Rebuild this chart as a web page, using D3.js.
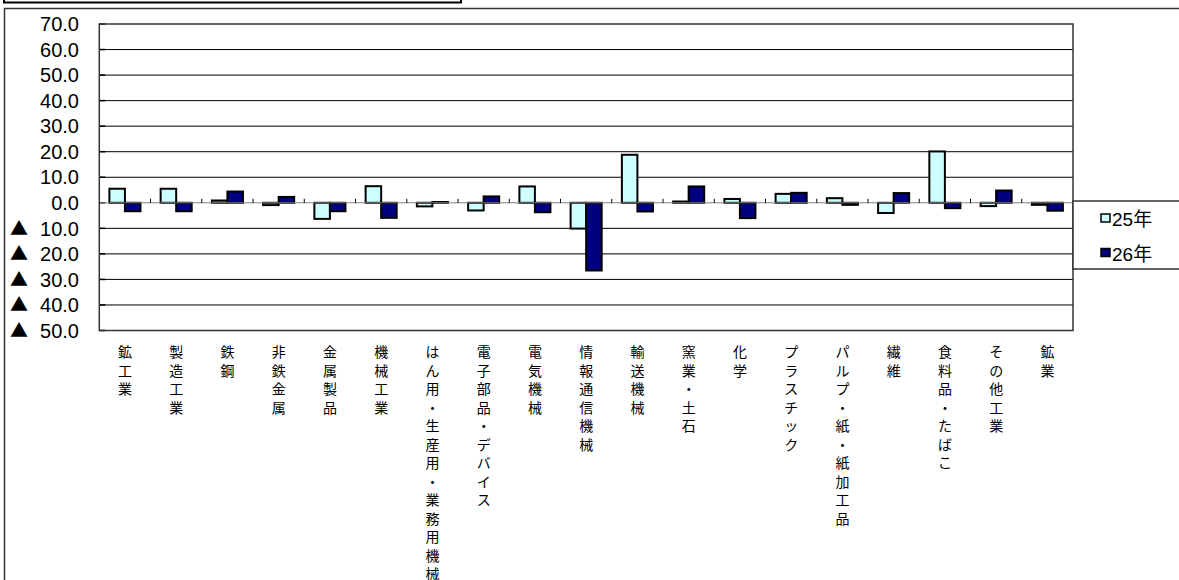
<!DOCTYPE html>
<html>
<head>
<meta charset="utf-8">
<script src="https://cdn.jsdelivr.net/npm/d3@7"></script>
<style>
  body { margin: 0; background: #fff; }
  svg { display: block; }
</style>
</head>
<body>
<div id="chart"></div>
<script>
// categories along the x axis
const categories = [
  "鉱工業", "製造工業", "鉄鋼", "非鉄金属", "金属製品", "機械工業",
  "はん用・生産用・業務用機械", "電子部品・デバイス", "電気機械", "情報通信機械",
  "輸送機械", "窯業・土石", "化学", "プラスチック", "パルプ・紙・紙加工品",
  "繊維", "食料品・たばこ", "その他工業", "鉱業"
];

const seriesNames = ["25年", "26年"];

// values
const values25 = [5.5, 5.5, 0.9, -0.9, -6.3, 6.5, -1.4, -3.0, 6.4, -10.1,
  18.8, 0.5, 1.5, 3.5, 1.8, -4.0, 20.1, -1.3, -0.8];
const values26 = [-3.3, -3.3, 4.4, 2.3, -3.3, -5.9, 0.3, 2.5, -3.7, -26.5,
  -3.4, 6.4, -6.0, 3.9, -0.8, 3.8, -2.1, 4.8, -3.1];

const yTicks = [70, 60, 50, 40, 30, 20, 10, 0, -10, -20, -30, -40, -50];

const settings = {
  width: 1179,
  height: 580,
  plotLeft: 99.3,
  plotRight: 1073,
  plotTop: 24,
  plotBottom: 330.5,
  colors: ["#CCFFFF", "#000080"],
  tickFont: "20px",
  labelFont: "14px",
  labelStep: 18.5,
};

function drawChart() {
  const svg = d3
    .select("#chart")
    .append("svg")
    .attr("width", settings.width)
    .attr("height", settings.height);

  // title box stub and outer chart frame
  svg.append("rect")
    .attr("x", 4).attr("y", -6)
    .attr("width", 457).attr("height", 8.5)
    .attr("fill", "none").attr("stroke", "#000").attr("stroke-width", 2);

  svg.append("path")
    .attr("d", `M4.5,${settings.height} V8.5 H${settings.width}`)
    .attr("fill", "none").attr("stroke", "#333").attr("stroke-width", 1.5);

  const x = d3.scaleBand()
    .domain(categories)
    .range([settings.plotLeft, settings.plotRight]);

  const xSub = d3.scaleBand()
    .domain(seriesNames)
    .range([0, x.bandwidth()])
    .paddingOuter(0.65);

  const y = d3.scaleLinear()
    .domain([-50, 70])
    .range([settings.plotBottom, settings.plotTop]);

  // gridlines
  svg.append("g")
    .selectAll("line")
    .data(yTicks.filter(d => d !== 0 && d !== 70 && d !== -50))
    .join("line")
    .attr("x1", settings.plotLeft).attr("x2", settings.plotRight)
    .attr("y1", d => y(d)).attr("y2", d => y(d))
    .attr("stroke", "#000").attr("stroke-width", 1);

  // y tick labels (number part)
  svg.append("g")
    .selectAll("text")
    .data(yTicks)
    .join("text")
    .attr("x", 79)
    .attr("y", d => y(d))
    .attr("dy", "0.36em")
    .attr("text-anchor", "end")
    .attr("font-family", "'Liberation Sans', sans-serif")
    .attr("font-size", settings.tickFont)
    .attr("fill", "#000")
    .text(d => Math.abs(d).toFixed(1));

  // ▲ marks the negative values
  svg.append("g")
    .selectAll("text")
    .data(yTicks.filter(d => d < 0))
    .join("text")
    .attr("x", 10)
    .attr("y", d => y(d))
    .attr("dy", "0.36em")
    .attr("font-family", "'Noto Sans CJK JP', sans-serif")
    .attr("font-size", "18px")
    .attr("fill", "#000")
    .text("▲");

  // small tick marks on left axis
  svg.append("g")
    .selectAll("line")
    .data(yTicks)
    .join("line")
    .attr("x1", settings.plotLeft).attr("x2", settings.plotLeft + 6)
    .attr("y1", d => y(d)).attr("y2", d => y(d))
    .attr("stroke", "#000").attr("stroke-width", 1.5);

  // bars
  const groups = svg.append("g")
    .selectAll("g")
    .data(categories)
    .join("g")
    .attr("transform", d => `translate(${x(d)},0)`);

  groups.selectAll("rect")
    .data((d, i) => [
      { name: seriesNames[0], value: values25[i], color: settings.colors[0] },
      { name: seriesNames[1], value: values26[i], color: settings.colors[1] },
    ])
    .join("rect")
    .attr("x", d => xSub(d.name))
    .attr("width", xSub.bandwidth())
    .attr("y", d => y(Math.max(0, d.value)))
    .attr("height", d => Math.abs(y(d.value) - y(0)))
    .attr("fill", d => d.color)
    .attr("stroke", "#000")
    .attr("stroke-width", 2);

  // zero axis with category ticks
  svg.append("line")
    .attr("x1", settings.plotLeft).attr("x2", settings.plotRight)
    .attr("y1", y(0)).attr("y2", y(0))
    .attr("stroke", "#808080").attr("stroke-width", 1);

  svg.append("g")
    .selectAll("line")
    .data(categories.slice(1))
    .join("line")
    .attr("x1", d => x(d)).attr("x2", d => x(d))
    .attr("y1", y(0) - 4).attr("y2", y(0))
    .attr("stroke", "#000").attr("stroke-width", 1);

  // plot frame
  svg.append("rect")
    .attr("x", settings.plotLeft).attr("y", settings.plotTop)
    .attr("width", settings.plotRight - settings.plotLeft)
    .attr("height", settings.plotBottom - settings.plotTop)
    .attr("fill", "none").attr("stroke", "#333").attr("stroke-width", 1.5);

  // vertical category labels, one character per line
  const labels = svg.append("g")
    .attr("font-family", "'Noto Sans CJK JP', sans-serif")
    .attr("font-size", settings.labelFont)
    .attr("fill", "#000")
    .attr("text-anchor", "middle");

  labels.selectAll("text")
    .data(categories)
    .join("text")
    .attr("transform", d => `translate(${x(d) + x.bandwidth() / 2},357)`)
    .selectAll("tspan")
    .data(d => Array.from(d))
    .join("tspan")
    .attr("x", 0)
    .attr("y", (c, i) => i * settings.labelStep)
    .text(c => c);

  // legend
  const legend = svg.append("g");
  legend.append("rect")
    .attr("x", settings.plotRight).attr("y", 201)
    .attr("width", 130).attr("height", 68)
    .attr("fill", "#fff").attr("stroke", "#333").attr("stroke-width", 1.5);

  const items = legend.selectAll("g")
    .data(seriesNames)
    .join("g")
    .attr("transform", (d, i) => `translate(1101,${214 + i * 34.5})`);

  items.append("rect")
    .attr("width", 9).attr("height", 8)
    .attr("fill", (d, i) => settings.colors[i])
    .attr("stroke", "#000").attr("stroke-width", 1.5);

  items.append("text")
    .attr("x", 11).attr("y", 12)
    .attr("font-family", "'Liberation Sans', 'Noto Sans CJK JP', sans-serif")
    .attr("font-size", "19px")
    .attr("fill", "#000")
    .text(d => d);
}

drawChart();
</script>
</body>
</html>
